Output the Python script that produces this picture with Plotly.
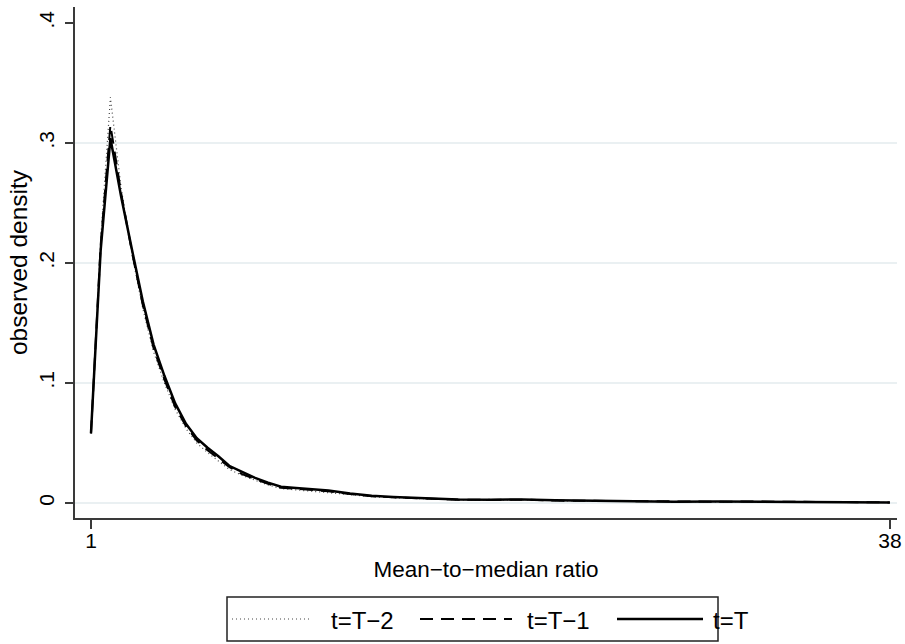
import plotly.graph_objects as go

# Mean-to-median ratio grid
ratio = [1, 1.45, 1.9, 2.4, 2.9, 3.4, 3.9, 4.4, 4.9, 5.4, 5.9, 6.4, 6.9, 7.4,
         8, 8.6, 9.2, 9.8, 10.5, 11.2, 12, 13, 14, 15, 16.5, 18, 19.5, 21,
         22.5, 24, 26, 28, 30, 32, 34, 36, 38]

dens_T = [0.058, 0.211, 0.304, 0.255, 0.211, 0.168, 0.132, 0.106, 0.083, 0.066,
          0.054, 0.046, 0.039, 0.031, 0.026, 0.021, 0.017, 0.0135, 0.0125, 0.0115,
          0.0105, 0.008, 0.006, 0.005, 0.004, 0.003, 0.0028, 0.003, 0.0022, 0.0018,
          0.0014, 0.001, 0.0012, 0.0013, 0.0008, 0.0007, 0.0005]

dens_T1 = [0.058, 0.215, 0.315, 0.258, 0.209, 0.165, 0.129, 0.103, 0.080, 0.064,
           0.052, 0.044, 0.037, 0.030, 0.024, 0.020, 0.016, 0.0128, 0.0118, 0.0108,
           0.0098, 0.0075, 0.0056, 0.0047, 0.0037, 0.0028, 0.0026, 0.0028, 0.002, 0.0017,
           0.0013, 0.001, 0.0011, 0.0012, 0.0008, 0.0007, 0.0005]

dens_T2 = [0.058, 0.220, 0.338, 0.262, 0.207, 0.162, 0.126, 0.100, 0.078, 0.062,
           0.050, 0.042, 0.035, 0.028, 0.023, 0.019, 0.015, 0.012, 0.011, 0.0098,
           0.0088, 0.007, 0.0052, 0.0043, 0.0035, 0.0026, 0.0025, 0.0027, 0.0019, 0.0016,
           0.0012, 0.0009, 0.001, 0.0011, 0.0007, 0.0006, 0.0004]

series_names = ["t=T\u22122", "t=T\u22121", "t=T"]
x_tick_vals = [1, 38]
x_tick_text = ["1", "38"]
y_tick_vals = [0, 0.1, 0.2, 0.3, 0.4]
y_tick_text = ["0", ".1", ".2", ".3", ".4"]
grid_vals = [0, 0.1, 0.2, 0.3]

FONT = "Liberation Sans, Arial, sans-serif"
AXC = "#3a3a3a"

# plot-area geometry in pixels (for the hand-drawn legend)
W, H = 905, 644
L, R, T, B = 75, 8, 7, 126
PW, PH = W - L - R, H - T - B


def px_x(p):
    return (p - L) / PW


def px_y(p):
    return (H - B - p) / PH


styles = [dict(color="#444444", width=1.2, dash="1px,3px"),
          dict(color="black", width=2, dash="13px,8px"),
          dict(color="black", width=2.5)]

fig = go.Figure()
for name, ys, st in zip(series_names, [dens_T2, dens_T1, dens_T], styles):
    fig.add_trace(go.Scatter(x=ratio, y=ys, mode="lines", name=name, line=st,
                             showlegend=False))

shapes = []
for g in grid_vals:
    shapes.append(dict(type="line", xref="paper", yref="y", x0=0, x1=1, y0=g, y1=g,
                       line=dict(color="#e3ebee", width=1.5), layer="below"))

# legend box
shapes.append(dict(type="rect", xref="paper", yref="paper",
                   x0=px_x(227), x1=px_x(718), y0=px_y(641), y1=px_y(597),
                   line=dict(color="#222222", width=1.5), fillcolor="white"))
legend_samples = [(232, 312), (420, 512), (617, 703)]
legend_text_x = [329, 525, 711]
annotations = []
for (a, b), tx, name, st in zip(legend_samples, legend_text_x, series_names, styles):
    shapes.append(dict(type="line", xref="paper", yref="paper",
                       x0=px_x(a), x1=px_x(b), y0=px_y(619), y1=px_y(619), line=st))
    annotations.append(dict(xref="paper", yref="paper", x=px_x(tx), y=px_y(620),
                            xanchor="left", yanchor="middle", text=name,
                            showarrow=False, font=dict(size=24)))

fig.update_layout(
    width=W, height=H,
    margin=dict(l=L, r=R, t=T, b=B),
    paper_bgcolor="white", plot_bgcolor="white",
    font=dict(family=FONT, size=20, color="black"),
    shapes=shapes, annotations=annotations,
    showlegend=False,
    xaxis=dict(range=[0.26, 38.33], tickmode="array", tickvals=x_tick_vals,
               ticktext=x_tick_text, showgrid=False, zeroline=False,
               showline=True, linecolor=AXC, linewidth=1.5, automargin=False,
               ticks="outside", ticklen=9, tickwidth=1.5, tickcolor=AXC,
               tickfont=dict(size=21), ticklabelstandoff=-6,
               title=dict(text="Mean\u2212to\u2212median ratio", standoff=10,
                          font=dict(size=22.5))),
    yaxis=dict(range=[-0.0125, 0.4133], tickmode="array", tickvals=y_tick_vals,
               ticktext=y_tick_text, tickangle=-90, showgrid=False, zeroline=False,
               showline=True, linecolor=AXC, linewidth=1.5, automargin=False,
               ticks="outside", ticklen=8, tickwidth=1.5, tickcolor=AXC,
               tickfont=dict(size=21), ticklabelstandoff=3,
               title=dict(text="observed density", standoff=0, font=dict(size=24.5))),
)

fig.write_html("out.html", config={"displayModeBar": False},
               post_script="document.body.style.margin='0px';")
